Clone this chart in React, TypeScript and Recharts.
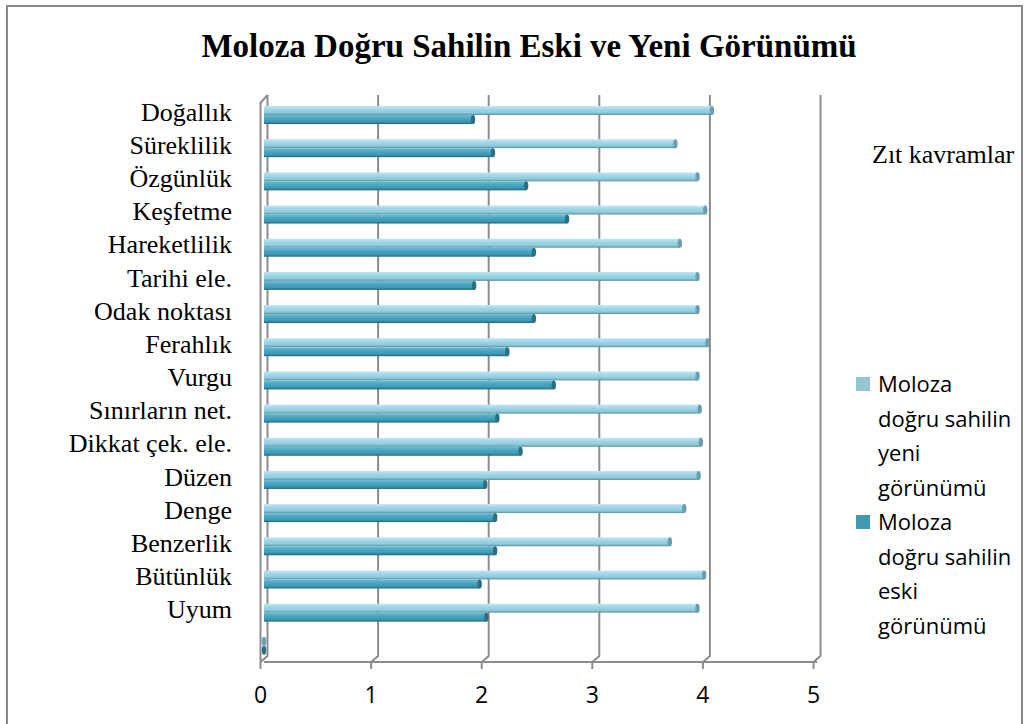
import { Bar, BarChart, CartesianGrid, Legend, XAxis, YAxis } from "recharts";

const categories = [
  "Doğallık",
  "Süreklilik",
  "Özgünlük",
  "Keşfetme",
  "Hareketlilik",
  "Tarihi ele.",
  "Odak noktası",
  "Ferahlık",
  "Vurgu",
  "Sınırların net.",
  "Dikkat çek. ele.",
  "Düzen",
  "Denge",
  "Benzerlik",
  "Bütünlük",
  "Uyum",
  "",
];

const newView = [4.05, 3.72, 3.92, 3.99, 3.76, 3.92, 3.92, 4.01, 3.92, 3.94, 3.95, 3.93, 3.8, 3.67, 3.98, 3.92, 0];
const oldView = [1.89, 2.07, 2.37, 2.74, 2.44, 1.9, 2.44, 2.2, 2.62, 2.11, 2.32, 2.0, 2.09, 2.09, 1.95, 2.01, 0];

const xTicks = [0, 1, 2, 3, 4, 5];

const seriesNames = ["Moloza doğru sahilin yeni görünümü", "Moloza doğru sahilin eski görünümü"];
const title = "Moloza Doğru Sahilin Eski ve Yeni Görünümü";
const sideNote = "Zıt kavramlar";

const data = categories.map((name, i) => ({ name, yeni: newView[i], eski: oldView[i] }));

const SERIF = '"Liberation Serif", "Times New Roman", serif';
const SANS = '"Open Sans", "Noto Sans", sans-serif';
const GRID = "#8c8c8c";

// back wall lines + floor diagonals, fake 3d depth
function WallLine(props: any) {
  const { x1, y1, y2, index } = props;
  const back = x1 + 3.5;
  const front = x1 - 3.5;
  let d = `M${back},${y1 - 3} L${back},${y2 - 6} L${front},${y2}`;
  if (index === 0) d += ` M${front},${y2} L${front},${y1 + 5} L${back},${y1 - 3}`;
  return <path key={`wall-${index}`} d={d} fill="none" stroke={GRID} strokeWidth={2} />;
}

function XTick({ x, y, payload }: any) {
  const fx = x - 3.5;
  return (
    <g>
      <line x1={fx} y1={y} x2={fx} y2={y + 7} stroke={GRID} strokeWidth={2} />
      <text x={fx} y={y + 41} textAnchor="middle" fontFamily={SANS} fontSize={23} fill="#000">
        {payload.value}
      </text>
    </g>
  );
}

function YTick({ x, y, payload }: any) {
  return (
    <text x={x} y={y - 3} dy="0.35em" textAnchor="end" fontFamily={SERIF} fontSize={26} fill="#000">
      {payload.value}
    </text>
  );
}

function makeBarShape(grad: string, cap: string) {
  return (props: any) => {
    const { x, y, width, height } = props;
    return (
      <g>
        <rect x={x} y={y} width={Math.max(width, 0)} height={height} fill={`url(#${grad})`} />
        <ellipse cx={x + Math.max(width, 0)} cy={y + height / 2} rx={2.2} ry={height / 2} fill={cap} />
      </g>
    );
  };
}

function LegendBox({ payload }: any) {
  const items = [...(payload || [])].sort(
    (a: any, b: any) => seriesNames.indexOf(a.value) - seriesNames.indexOf(b.value)
  );
  return (
    <div>
      {items.map((p: any, i: number) => (
        <div key={i} style={{ display: "flex", alignItems: "flex-start" }}>
          <span
            style={{ width: 14, height: 14, background: p.color, marginTop: 11, marginRight: 8, flex: "none" }}
          />
          <span style={{ width: 140, fontFamily: SANS, fontSize: 22, lineHeight: "34.5px", color: "#000" }}>
            {p.value}
          </span>
        </div>
      ))}
    </div>
  );
}

export default function App() {
  return (
    <div
      style={{
        position: "absolute",
        left: 0,
        top: 0,
        width: 1027,
        height: 724,
        overflow: "hidden",
        background: "#fff",
      }}
    >
      <div
        style={{
          position: "absolute",
          left: 6,
          top: 5,
          width: 1013,
          height: 760,
          border: "2px solid #898989",
        }}
      />
      <BarChart
        width={1027}
        height={724}
        data={data}
        layout="vertical"
        margin={{ top: 98, right: 210, bottom: 12, left: 0 }}
        barSize={9}
        barGap={0}
        style={{ position: "absolute", left: 0, top: 0 }}
      >
        <defs>
          <linearGradient id="gNew" x1="0" y1="0" x2="0" y2="1">
            <stop offset="0%" stopColor="#c6e7f1" />
            <stop offset="35%" stopColor="#a1d7e7" />
            <stop offset="75%" stopColor="#8ccadc" />
            <stop offset="100%" stopColor="#5f8f9d" />
          </linearGradient>
          <linearGradient id="gOld" x1="0" y1="0" x2="0" y2="1">
            <stop offset="0%" stopColor="#72bdd3" />
            <stop offset="35%" stopColor="#4ba8c3" />
            <stop offset="75%" stopColor="#3c97b2" />
            <stop offset="100%" stopColor="#21677a" />
          </linearGradient>
        </defs>
        <CartesianGrid horizontal={false} vertical={WallLine} />
        <XAxis
          type="number"
          domain={[0, 5]}
          ticks={xTicks}
          height={50}
          tickSize={0}
          tickMargin={0}
          tick={<XTick />}
          axisLine={{ stroke: GRID, strokeWidth: 2 }}
        />
        <YAxis
          type="category"
          dataKey="name"
          width={264}
          tickSize={0}
          tickMargin={32}
          axisLine={false}
          tickLine={false}
          interval={0}
          tick={<YTick />}
        />
        <Legend
          layout="horizontal"
          verticalAlign="middle"
          align="center"
          content={<LegendBox />}
          wrapperStyle={{ left: 856, top: 366, width: 170 }}
        />
        <Bar
          dataKey="yeni"
          name={seriesNames[0]}
          fill="#93c4d4"
          shape={makeBarShape("gNew", "#6a9fb0")}
          isAnimationActive={false}
        />
        <Bar
          dataKey="eski"
          name={seriesNames[1]}
          fill="#4299b2"
          shape={makeBarShape("gOld", "#2a6f83")}
          isAnimationActive={false}
        />
      </BarChart>
      <svg
        width={1027}
        height={724}
        style={{ position: "absolute", left: 0, top: 0, pointerEvents: "none" }}
      >
        <text x={529} y={57} textAnchor="middle" fontFamily={SERIF} fontSize={33} fontWeight="bold" fill="#000">
          {title}
        </text>
        <text x={872} y={163} fontFamily={SERIF} fontSize={26} fill="#000">
          {sideNote}
        </text>
      </svg>
    </div>
  );
}
